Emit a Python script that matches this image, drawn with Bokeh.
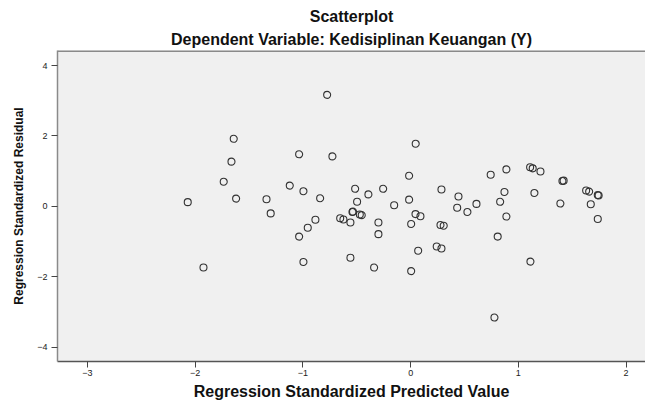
from bokeh.plotting import figure
from bokeh.models import Range1d, FixedTicker, Title, Span
from bokeh.embed import file_html
from bokeh.resources import INLINE

# Regression standardized predicted value (x) and residual (y)
predicted = [-0.775, -1.642, -1.663, -1.035, -0.726, -1.735, -1.122, -0.995, -0.515, -0.392,
             -0.255, -2.069, -1.620, -1.338, -0.840, -0.497, -0.153, -1.299, -0.540, -0.535,
             -0.472, -0.454, -0.884, -0.654, -0.624, -0.559, -0.299, -0.955, -1.035, -0.299,
             -0.995, -0.559, -1.923, -0.339, 0.047, -0.014, 0.286, 0.444, -0.014, 0.611,
             0.432, 0.527, 0.045, 0.091, 0.005, 0.277, 0.307, 0.808, 0.242, 0.286,
             0.070, 0.005, 1.112, 0.743, 0.889, 1.109, 1.133, 1.205, 1.409, 1.420,
             0.871, 1.149, 1.629, 1.657, 1.737, 1.745, 0.831, 1.390, 1.672, 0.889,
             1.737, 0.778]
residual = [3.17, 1.92, 1.27, 1.48, 1.42, 0.70, 0.59, 0.43, 0.50, 0.34,
            0.50, 0.12, 0.22, 0.20, 0.23, 0.13, 0.03, -0.20, -0.16, -0.15,
            -0.23, -0.25, -0.38, -0.34, -0.375, -0.46, -0.46, -0.61, -0.86, -0.79,
            -1.58, -1.46, -1.74, -1.74, 1.78, 0.87, 0.48, 0.28, 0.19, 0.07,
            -0.04, -0.16, -0.22, -0.28, -0.50, -0.53, -0.55, -0.86, -1.14, -1.20,
            -1.26, -1.84, -1.57, 0.90, 1.05, 1.11, 1.08, 0.99, 0.72, 0.73,
            0.41, 0.38, 0.45, 0.42, 0.32, 0.31, 0.13, 0.08, 0.06, -0.29,
            -0.36, -3.16]

x_ticks = [-3, -2, -1, 0, 1, 2]
y_ticks = [-4, -2, 0, 2, 4]

FONT = "Liberation Sans"
X_START, X_END = -3.278, 2.18
Y_START, Y_END = -4.41, 4.43

p = figure(width=645, height=403, output_backend="svg", toolbar_location=None,
           x_range=Range1d(X_START, X_END), y_range=Range1d(Y_START, Y_END),
           min_border_left=57, min_border_right=0, min_border_top=50, min_border_bottom=42)

p.background_fill_color = "#f0f0f0"
p.border_fill_color = "white"
p.outline_line_color = None
p.grid.visible = False

p.add_layout(Title(text="Dependent Variable: Kedisiplinan Keuangan (Y)", align="center",
                   text_font=FONT, text_font_size="16px", text_font_style="bold",
                   text_color="#111111", standoff=5), "above")
p.add_layout(Title(text="Scatterplot", align="center",
                   text_font=FONT, text_font_size="16px", text_font_style="bold",
                   text_color="#111111", standoff=4), "above")

p.add_layout(Span(location=Y_END, dimension="width", line_color="#8a8a8a", line_width=3))

p.scatter(predicted, residual, marker="circle", size=7, fill_color=None,
          line_color="#333333", line_width=1.1)

for ax in (p.xaxis[0], p.yaxis[0]):
    ax.major_label_text_font = FONT
    ax.major_label_text_font_size = "9px"
    ax.major_label_text_color = "#222222"
    ax.axis_label_text_font = FONT
    ax.axis_label_text_font_style = "bold"
    ax.axis_label_text_color = "#111111"
    ax.minor_tick_line_color = None
    ax.major_tick_in = 0
    ax.major_tick_out = 6
    ax.major_tick_line_color = "#444444"

p.xaxis[0].ticker = FixedTicker(ticks=x_ticks)
p.yaxis[0].ticker = FixedTicker(ticks=y_ticks)
p.xaxis[0].axis_label = "Regression Standardized Predicted Value"
p.yaxis[0].axis_label = "Regression Standardized Residual"
p.xaxis[0].axis_label_text_font_size = "16px"
p.yaxis[0].axis_label_text_font_size = "12px"
p.xaxis[0].axis_line_color = "#555555"
p.xaxis[0].axis_line_width = 1.5
p.yaxis[0].axis_line_color = "#8a8a8a"
p.yaxis[0].axis_line_width = 1.5
p.xaxis[0].major_label_standoff = 2
p.yaxis[0].major_label_standoff = 4
p.xaxis[0].axis_label_standoff = 4
p.yaxis[0].axis_label_standoff = 8

open("out.html", "w").write(file_html(p, INLINE))
